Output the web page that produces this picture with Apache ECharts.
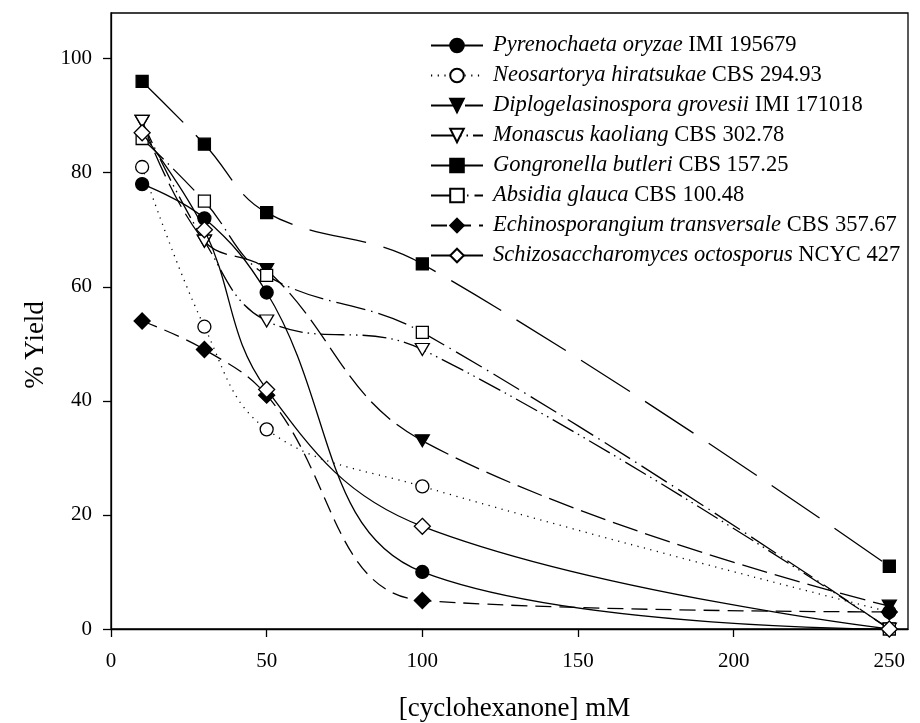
<!DOCTYPE html>
<html>
<head>
<meta charset="utf-8">
<script src="https://cdn.jsdelivr.net/npm/echarts@6/dist/echarts.min.js"></script>
<style>
    html, body { margin: 0; padding: 0; background: #fff; }
    #chart { width: 920px; height: 723px; }
</style>
</head>
<body>
<div id="chart"></div>
<script>
var FONT = '"Liberation Serif", "Times New Roman", serif';

// ------------------ data ------------------
var concentrations = [10, 30, 50, 100, 250];

var speciesNames = ['Pyrenochaeta oryzae', 'Neosartorya hiratsukae', 'Diplogelasinospora grovesii',
    'Monascus kaoliang', 'Gongronella butleri', 'Absidia glauca',
    'Echinosporangium transversale', 'Schizosaccharomyces octosporus'];
var strainCodes = ['IMI 195679', 'CBS 294.93', 'IMI 171018', 'CBS 302.78',
    'CBS 157.25', 'CBS 100.48', 'CBS 357.67', 'NCYC 427'];

var pyrenochaeta = [78, 72, 59, 10, 0];
var neosartorya = [81, 53, 35, 25, 3];
var diplogelasinospora = [89, 68, 63, 33, 4];
var monascus = [89, 68, 54, 49, 0];
var gongronella = [96, 85, 73, 64, 11];
var absidia = [86, 75, 62, 52, 0];
var echinosporangium = [54, 49, 41, 5, 3];
var schizosaccharomyces = [87, 70, 42, 18, 0];

var xTicks = [0, 50, 100, 150, 200, 250];
var yTicks = [0, 20, 40, 60, 80, 100];

// ------------------ styles ------------------
var TRI_DOWN = 'path://M0,0 L10,0 L5,8.7 Z';
var styles = [
    {symbol: 'circle', size: 13, fill: '#000', dash: 'solid'},
    {symbol: 'circle', size: 13, fill: '#fff', dash: [1.2, 5.5]},
    {symbol: TRI_DOWN, size: [14, 12], fill: '#000', dash: [26, 8]},
    {symbol: TRI_DOWN, size: [14, 12], fill: '#fff', dash: [24, 5, 1.5, 5, 1.5, 5]},
    {symbol: 'rect', size: 12, fill: '#000', dash: [58, 18]},
    {symbol: 'rect', size: 12, fill: '#fff', dash: [30, 6, 1.5, 6]},
    {symbol: 'diamond', size: 16, fill: '#000', dash: [16, 8]},
    {symbol: 'diamond', size: 16, fill: '#fff', dash: 'solid'}
];
var seriesValues = [pyrenochaeta, neosartorya, diplogelasinospora, monascus,
    gongronella, absidia, echinosporangium, schizosaccharomyces];

function pairs(values) {
    return concentrations.map(function (x, i) { return [x, values[i]]; });
}

var series = seriesValues.map(function (values, i) {
    var s = styles[i];
    return {
        name: speciesNames[i],
        type: 'line',
        smooth: 0.4,
        data: pairs(values),
        symbol: s.symbol,
        symbolSize: s.size,
        showAllSymbol: true,
        lineStyle: {color: '#000', width: 1.3, type: s.dash},
        itemStyle: {color: s.fill, borderColor: '#000', borderWidth: 1.3, opacity: 1},
        emphasis: {disabled: true},
        z: 2 + i
    };
});

var myChart = echarts.init(document.getElementById('chart'), null, {renderer: 'canvas'});

var option = {
    animation: false,
    backgroundColor: '#fff',
    textStyle: {fontFamily: FONT, color: '#000'},
    grid: {
        left: 111, right: 12, top: 13, bottom: 94,
        outerBoundsMode: 'none',
        show: true, borderColor: '#000', borderWidth: 1.3
    },
    legend: {
        orient: 'vertical',
        left: 425,
        top: 29,
        itemWidth: 52,
        itemHeight: 17,
        itemGap: 7,
        selectedMode: false,
        data: speciesNames,
        formatter: function (name) {
            var i = speciesNames.indexOf(name);
            return '{i|' + name + '} ' + strainCodes[i];
        },
        textStyle: {
            fontFamily: FONT, fontSize: 22.5, color: '#000', padding: [0, 0, 0, 5],
            rich: {i: {fontFamily: FONT, fontSize: 22.5, fontStyle: 'italic', color: '#000'}}
        }
    },
    xAxis: {
        type: 'value',
        min: 0,
        max: 256,
        interval: 50,
        name: '[cyclohexanone] mM',
        nameLocation: 'middle',
        nameGap: 66,
        nameTextStyle: {fontFamily: FONT, fontSize: 27, color: '#000', padding: [0, 0, 0, 10]},
        axisLine: {show: true, onZero: false, lineStyle: {color: '#000', width: 1.3}},
        axisTick: {show: true, length: 8, lineStyle: {color: '#000', width: 1.3},
            customValues: xTicks},
        axisLabel: {margin: 22, fontFamily: FONT, fontSize: 21, color: '#000',
            customValues: xTicks},
        splitLine: {show: false}
    },
    yAxis: {
        type: 'value',
        min: 0,
        max: 108,
        interval: 20,
        name: '% Yield',
        nameLocation: 'middle',
        nameGap: 60,
        nameRotate: 90,
        nameTextStyle: {fontFamily: FONT, fontSize: 27, color: '#000', padding: [0, 48, 0, 0]},
        axisLine: {show: true, onZero: false, lineStyle: {color: '#000', width: 1.3}},
        axisTick: {show: true, length: 8, lineStyle: {color: '#000', width: 1.3},
            customValues: yTicks},
        axisLabel: {margin: 19, fontFamily: FONT, fontSize: 21, color: '#000',
            customValues: yTicks},
        splitLine: {show: false}
    },
    series: series
};
myChart.setOption(option);
</script>
</body>
</html>
